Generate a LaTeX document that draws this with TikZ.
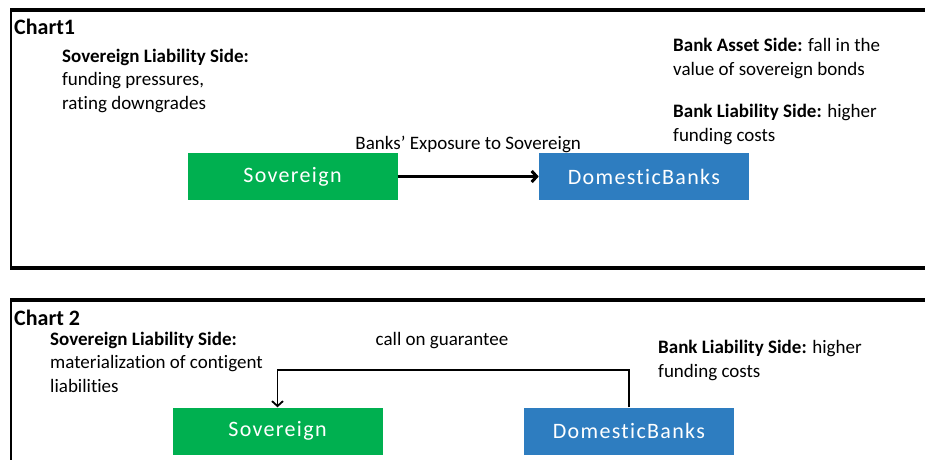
\documentclass[tikz,border=0pt]{standalone}
\usepackage{fontspec}
\setmainfont[Ligatures=NoCommon]{Carlito}
\newfontfamily\boxfont[LetterSpace=6,Ligatures=NoCommon]{Carlito}
\usetikzlibrary{positioning}
\usetikzlibrary{arrows.meta}
\definecolor{sovgreen}{HTML}{00B050}
\definecolor{bankblue}{HTML}{2E7DC0}

\begin{document}
\begin{tikzpicture}[x=1pt, y=-1pt,
frame/.style={line width=3.5pt},
side/.style={line width=2pt},
box/.style={minimum width=210pt, minimum height=47pt, inner sep=0pt, text=white, font=\boxfont\fontsize{22}{26}\selectfont},
sov/.style={box, fill=sovgreen},
bank/.style={box, fill=bankblue},
title/.style={anchor=base west, inner sep=0pt, font=\fontsize{22}{26}\selectfont\bfseries},
note/.style={anchor=base west, inner sep=0pt, align=left, font=\fontsize{19}{23.5}\selectfont},
tag/.style={inner sep=0pt, font=\fontsize{19}{23}\selectfont},
link/.style={-{Straight Barb[length=5pt,width=11pt]}, line width=1.8pt}]
\useasboundingbox (0,0) rectangle (925,460);
\draw[frame] (925,10) -- (10,10);
\draw[frame] (10,268) -- (925,268);
\draw[side] (11,10) -- (11,268);
\draw[frame] (925,300) -- (10,300);
\draw[side] (11,300) -- (11,460);

\node[title] (chart1) at (14,35) {Chart1};
\node[note] (sovnote1) at (62,109) {\textbf{Sovereign Liability Side:}\\funding pressures,\\rating downgrades};
\node[note] (assetnote) at (673,75) {\textbf{Bank Asset Side:} fall in the\\value of sovereign bonds};
\node[note] (banknote1) at (673,141) {\textbf{Bank Liability Side:} higher\\funding costs};
\node[sov] (sov1) at (292.5,176.5) {Sovereign};
\node[bank, right=141pt of sov1] (bank1) {DomesticBanks};
\draw[link, line width=3pt] (sov1) -- node[tag, above=22pt] {Banks' Exposure to Sovereign} (bank1);

\node[title] (chart2) at (14,325) {Chart 2};
\node[note] (sovnote2) at (50,392) {\textbf{Sovereign Liability Side:}\\materialization of contigent\\liabilities};
\node[note] (banknote2) at (658,377) {\textbf{Bank Liability Side:} higher\\funding costs};
\node[sov] (sov2) at (277.5,431) {Sovereign};
\node[bank, right=141pt of sov2] (bank2) {DomesticBanks};
\draw[link] (bank2.north) -- ++(0,-37) -| node[tag, pos=0.266, above=21pt] {call on guarantee} (sov2.north);
\end{tikzpicture}
\end{document}
